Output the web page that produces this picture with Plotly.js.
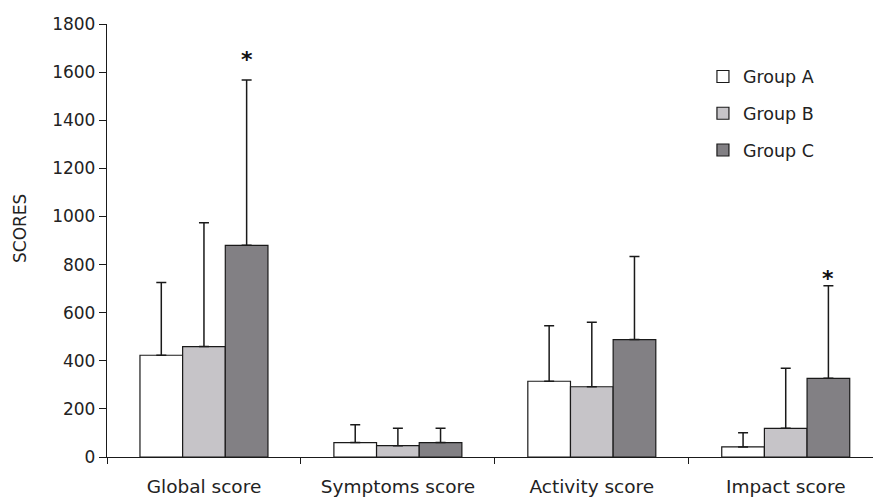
<!DOCTYPE html>
<html>
<head>
<meta charset="utf-8">
<script src="https://cdn.plot.ly/plotly-3.0.1.min.js"></script>
<style>html,body{margin:0;padding:0;background:#fff;}#chart{width:873px;height:499px;}</style>
</head>
<body>
<div id="chart"></div>
<script>
const categories = ["Global score", "Symptoms score", "Activity score", "Impact score"];
const groupNames = ["Group A", "Group B", "Group C"];
const groupA = [423, 60, 315, 42];
const groupB = [459, 47, 292, 119];
const groupC = [880, 60, 488, 327];
const errA = [302, 74, 231, 59];
const errB = [515, 72, 268, 250];
const errC = [687, 59, 345, 385];
const significant = ["Global score", "Impact score"];
const starShift = [6, -7];
const yTicks = [0, 200, 400, 600, 800, 1000, 1200, 1400, 1600, 1800];

const colors = ["#ffffff", "#c6c4c8", "#828084"];
const FONT = "DejaVu Sans, Liberation Sans, Arial, sans-serif";

function mk(name, vals, errs, color, grp) {
  return {
    type: "bar", name: name, x: categories, y: vals,
    legendgroup: grp,
    marker: {color: color, line: {color: "#1a1a1a", width: 1.2}},
    error_y: {type: "data", symmetric: false, array: errs, arrayminus: errs.map(() => 0),
              color: "#1a1a1a", thickness: 1.5, width: 5},
    hoverinfo: "none"
  };
}
const data = [
  mk(groupNames[0], groupA, errA, colors[0], "a"),
  mk(groupNames[1], groupB, errB, colors[1], "b"),
  mk(groupNames[2], groupC, errC, colors[2], "c")
];

const annotations = significant.map((cat, k) => {
  const i = categories.indexOf(cat);
  return {x: i + 0.22, y: groupC[i] + errC[i], xref: "x", yref: "y",
          text: "<b>*</b>", showarrow: false, yanchor: "bottom", yshift: starShift[k],
          font: {family: FONT, size: 22, color: "#111"}};
});
annotations.push({
  x: (20 - 107) / 766, xref: "paper", xanchor: "center",
  y: (457 - 229) / 433, yref: "paper", yanchor: "middle",
  text: "SCORES", showarrow: false, textangle: -90,
  font: {family: FONT, size: 17, color: "#222"}
});

const layout = {
  width: 873, height: 499,
  margin: {l: 107, r: 0, t: 24, b: 42},
  paper_bgcolor: "#fff", plot_bgcolor: "#fff",
  barmode: "group", bargap: 0.34, bargroupgap: 0,
  font: {family: FONT, size: 17, color: "#222"},
  showlegend: true,
  legend: {x: 0.778, y: 0.92, xanchor: "left", yanchor: "top",
           font: {family: FONT, size: 17.5, color: "#222"},
           tracegroupgap: 11, bgcolor: "rgba(0,0,0,0)", itemwidth: 30},
  xaxis: {type: "category", range: [-0.5, 3.45], showline: true, linecolor: "#1a1a1a", linewidth: 1.2,
          ticks: "outside", tickson: "boundaries", ticklen: 6, tickcolor: "#1a1a1a",
          showgrid: false, zeroline: false, fixedrange: true, ticklabelstandoff: 13,
          tickfont: {family: FONT, size: 18.5, color: "#222"}},
  yaxis: {range: [0, 1800], tickvals: yTicks, ticktext: yTicks.map(String),
          showline: true, linecolor: "#1a1a1a", linewidth: 1.2,
          ticks: "outside", ticklen: 7, tickcolor: "#1a1a1a",
          showgrid: false, zeroline: false, fixedrange: true,
          tickfont: {family: FONT, size: 17, color: "#222"}},
  annotations: annotations
};

Plotly.newPlot("chart", data, layout, {displayModeBar: false, staticPlot: true});
</script>
</body>
</html>
